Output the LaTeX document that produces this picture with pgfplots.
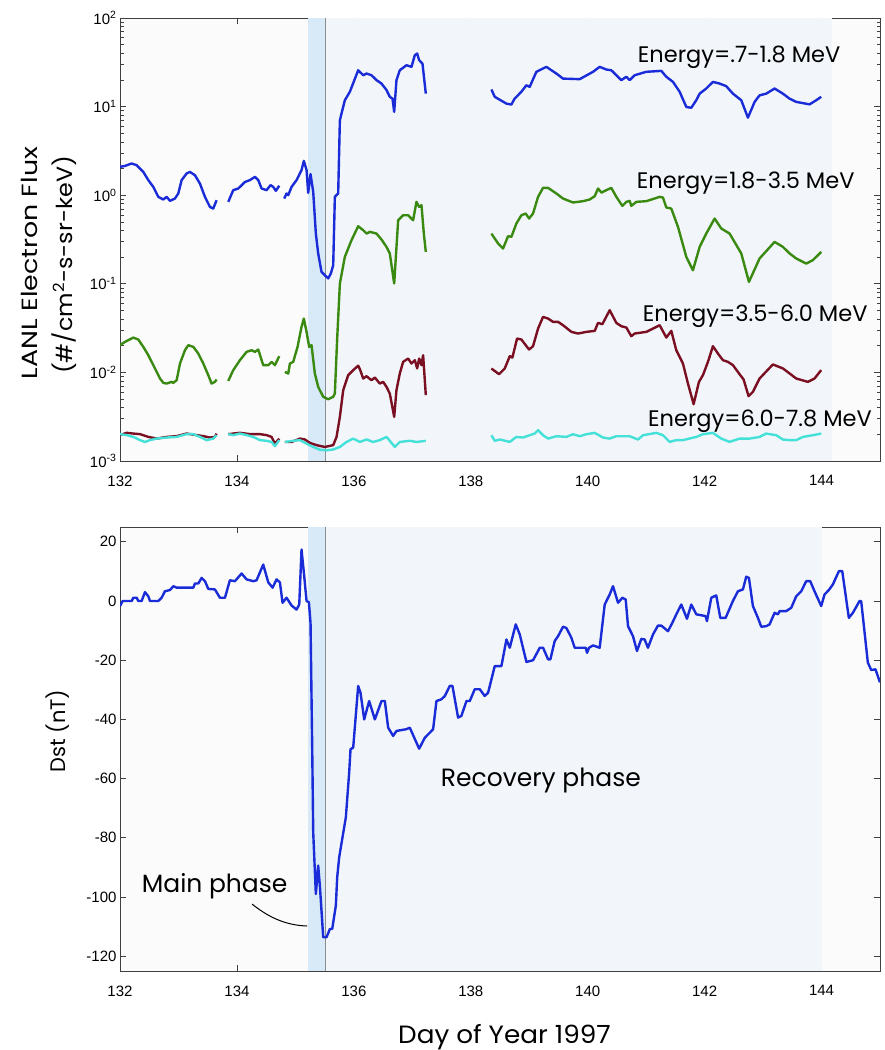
\documentclass[border=0pt]{standalone}
\usepackage{fontspec}
\setmainfont{Poppins}
\newfontfamily\tickfont{Liberation Sans}
\usepackage{graphicx}
\usepackage{pgfplots}
\pgfplotsset{compat=1.18}
\definecolor{cblue}{HTML}{1A2BD8}
\definecolor{cgreen}{HTML}{3A8A12}
\definecolor{cred}{HTML}{7A0F22}
\definecolor{ccyan}{HTML}{45E0D8}
\definecolor{mainsh}{HTML}{D8EAF8}
\definecolor{recsh}{HTML}{F2F6FA}
\definecolor{bgsh}{HTML}{FBFBFB}
\pgfplotsset{panel/.style={
  scale only axis, width=760pt, xmin=132, xmax=145, xtick={132,134,...,144},
  axis background/.style={fill=bgsh},
  axis line style={black!75, line width=0.8pt},
  tick style={black!75, line width=0.6pt},
  major tick length=6pt, minor tick length=3.5pt,
  tick label style={font=\tickfont\fontsize{15}{18}\selectfont},
  xticklabel style={yshift=-11pt},
  /pgf/number format/assume math mode=true,
  unbounded coords=jump,
  every axis plot/.append style={line width=2.4pt, line join=round},
}}
\begin{document}
\begin{tikzpicture}
\path[use as bounding box] (0,0) rectangle (885pt,1050pt);
% ---------------- top panel ----------------
\begin{axis}[panel, at={(120pt,589pt)}, anchor=south west, height=443pt,
  ymode=log, ymin=1e-3, ymax=1e2,
  ytick={1e-3,1e-2,1e-1,1,10,100},
  yticklabels={10\textsuperscript{-3},10\textsuperscript{-2},10\textsuperscript{-1},10\textsuperscript{0},10\textsuperscript{1},10\textsuperscript{2}}]
\fill[mainsh] (axis cs:135.21,1e-3) rectangle (axis cs:135.52,1e2);
\fill[recsh] (axis cs:135.52,1e-3) rectangle (axis cs:144.18,1e2);
\draw[black!45, line width=0.8pt] (axis cs:135.52,1e-3) -- (axis cs:135.52,1e2);
% 0.7-1.8 MeV
\addplot[cblue] coordinates {
(132.0,2.09)(132.085,2.14)(132.199,2.28)(132.285,2.18)(132.399,1.83)(132.484,1.48)(132.57,1.24)(132.655,0.958)(132.741,0.894)(132.798,0.958)(132.855,0.863)(132.94,0.917)(132.997,1.045)(133.054,1.48)(133.14,1.76)(133.197,1.83)(133.282,1.68)(133.368,1.35)(133.453,0.958)(133.538,0.738)(133.595,0.707)(133.652,0.878)
(133.75,nan)
(133.852,0.841)(133.937,1.14)(134.023,1.19)(134.137,1.41)(134.222,1.48)(134.308,1.61)(134.365,1.48)(134.422,1.19)(134.507,1.14)(134.575,1.30)(134.621,1.24)(134.667,1.12)(134.724,1.28)
(134.77,nan)
(134.809,0.917)(134.849,1.045)(134.878,1.0)(134.934,1.24)(135.02,1.48)(135.105,1.92)(135.145,2.44)(135.191,1.92)(135.219,1.063)(135.259,1.73)(135.305,1.09)(135.35,0.369)(135.39,0.22)(135.447,0.136)(135.504,0.125)(135.561,0.115)(135.607,0.131)(135.647,0.162)(135.675,0.958)(135.732,1.045)(135.761,7.02)(135.846,11.8)(135.932,14.7)(136.074,25.7)(136.16,22.6)(136.217,23.6)(136.302,22.6)(136.387,19.9)(136.473,18.2)(136.558,15.4)(136.615,12.9)(136.661,12.3)(136.69,8.72)(136.729,19.9)(136.786,25.7)(136.9,29.3)(136.986,28.1)(137.043,38.0)(137.083,39.7)(137.117,33.4)(137.174,30.6)(137.231,14.0)
(137.8,nan)
(138.353,15.6)(138.41,12.9)(138.61,10.8)(138.695,10.55)(138.75,12.3)(138.866,14.7)(138.95,17.4)(139.008,16.7)(139.122,24.7)(139.293,28.1)(139.464,23.6)(139.578,20.7)(139.863,20.4)(140.091,24.7)(140.205,28.1)(140.319,26.2)(140.404,25.7)(140.575,19.9)(140.661,21.7)(140.718,19.9)(140.803,22.6)(141.003,24.7)(141.259,25.3)(141.345,21.7)(141.459,19.0)(141.573,14.7)(141.687,9.9)(141.772,9.7)(141.857,11.8)(141.915,14.0)(142.028,16.0)(142.142,19.0)(142.256,18.2)(142.37,17.0)(142.484,14.0)(142.627,11.8)(142.741,7.5)(142.855,11.3)(142.94,13.4)(143.054,14.0)(143.197,16.0)(143.339,14.0)(143.453,12.3)(143.567,11.3)(143.795,10.6)(143.909,11.8)(143.994,12.9)
};
% 1.8-3.5 MeV
\addplot[cgreen] coordinates {
(132.0,0.0203)(132.085,0.0221)(132.228,0.0247)(132.313,0.0235)(132.399,0.0194)(132.484,0.01563)(132.57,0.01206)(132.627,0.01014)(132.684,0.00853)(132.741,0.00762)(132.798,0.00748)(132.883,0.00782)(132.912,0.00762)(132.969,0.00816)(133.026,0.01259)(133.111,0.0178)(133.168,0.0203)(133.254,0.0194)(133.339,0.01633)(133.425,0.01259)(133.51,0.0093)(133.567,0.00748)(133.624,0.00782)(133.652,0.00831)
(133.75,nan)
(133.852,0.00802)(133.937,0.01059)(134.051,0.01373)(134.165,0.01705)(134.251,0.0178)(134.308,0.01705)(134.365,0.01811)(134.45,0.01206)(134.536,0.01206)(134.593,0.01315)(134.65,0.01206)(134.724,0.01524)
(134.77,nan)
(134.821,0.01014)(134.878,0.0097)(134.906,0.01259)(134.963,0.01315)(135.037,0.0194)(135.105,0.03265)(135.145,0.04054)(135.191,0.02867)(135.236,0.0194)(135.276,0.0203)(135.333,0.0097)(135.39,0.00687)(135.476,0.0053)(135.561,0.00498)(135.647,0.0053)(135.675,0.00577)(135.715,0.02411)(135.761,0.1007)(135.846,0.2014)(135.96,0.3105)(136.074,0.4468)(136.16,0.4027)(136.217,0.369)(136.274,0.3857)(136.387,0.369)(136.473,0.316)(136.558,0.261)(136.615,0.22)(136.69,0.1007)(136.758,0.522)(136.843,0.594)(136.929,0.594)(137.014,0.522)(137.071,0.841)(137.117,0.738)(137.157,0.771)(137.197,0.369)(137.231,0.229)
(137.8,nan)
(138.353,0.369)(138.467,0.285)(138.552,0.250)(138.638,0.345)(138.695,0.339)(138.78,0.479)(138.866,0.594)(138.94,0.621)(138.997,0.545)(139.065,0.621)(139.151,0.958)(139.236,1.21)(139.322,1.21)(139.464,1.045)(139.578,0.917)(139.749,0.827)(139.92,0.856)(140.034,0.894)(140.12,0.975)(140.177,1.19)(140.234,1.07)(140.319,1.14)(140.404,1.21)(140.49,0.958)(140.593,0.758)(140.661,0.841)(140.718,0.863)(140.746,0.758)(140.832,0.841)(141.003,0.856)(141.231,0.958)(141.288,0.94)(141.345,0.726)(141.43,0.707)(141.544,0.44)(141.687,0.201)(141.8,0.142)(141.915,0.261)(142.028,0.369)(142.171,0.545)(142.285,0.421)(142.427,0.369)(142.627,0.22)(142.758,0.105)(142.94,0.193)(143.197,0.297)(143.339,0.261)(143.453,0.22)(143.567,0.193)(143.738,0.169)(143.852,0.185)(143.994,0.229)
};
% 3.5-6.0 MeV
\addplot[cred] coordinates {
(132.0,0.00196)(132.114,0.00208)(132.228,0.00204)(132.342,0.00201)(132.484,0.00187)(132.627,0.00179)(132.798,0.00187)(132.969,0.00191)(133.14,0.00204)(133.311,0.00196)(133.425,0.00191)(133.538,0.00184)(133.624,0.00187)(133.652,0.00204)
(133.75,nan)
(133.852,0.00201)(133.937,0.00204)(134.051,0.00208)(134.222,0.00201)(134.393,0.00201)(134.507,0.00196)(134.593,0.00187)(134.65,0.00157)(134.724,0.00179)
(134.77,nan)
(134.821,0.00164)(134.934,0.00164)(135.077,0.00179)(135.162,0.00175)(135.248,0.0016)(135.362,0.00151)(135.504,0.00144)(135.647,0.00151)(135.704,0.00187)(135.761,0.00315)(135.818,0.0063)(135.903,0.0093)(135.989,0.0106)(136.074,0.0119)(136.103,0.0109)(136.16,0.00853)(136.217,0.00906)(136.302,0.00816)(136.359,0.00875)(136.444,0.00748)(136.501,0.00782)(136.558,0.00687)(136.615,0.00577)(136.69,0.00315)(136.729,0.0063)(136.786,0.0097)(136.843,0.01315)(136.929,0.01434)(136.986,0.01259)(137.043,0.01373)(137.083,0.01109)(137.117,0.01434)(137.157,0.01206)(137.185,0.01563)(137.231,0.00553)
(137.8,nan)
(138.353,0.01106)(138.484,0.00954)(138.581,0.01106)(138.667,0.01524)(138.712,0.01472)(138.792,0.02411)(138.866,0.0235)(138.997,0.01811)(139.065,0.01975)(139.151,0.03126)(139.236,0.04233)(139.322,0.04054)(139.407,0.03718)(139.493,0.03718)(139.578,0.03409)(139.721,0.02867)(139.835,0.02746)(139.977,0.02867)(140.12,0.02942)(140.177,0.03622)(140.251,0.035)(140.376,0.05035)(140.49,0.03622)(140.575,0.0332)(140.661,0.03209)(140.746,0.02562)(140.803,0.02746)(141.003,0.02867)(141.231,0.03409)(141.345,0.02474)(141.43,0.02942)(141.515,0.0178)(141.629,0.01259)(141.715,0.00748)(141.812,0.00438)(141.903,0.00782)(141.971,0.0093)(142.057,0.01315)(142.142,0.01975)(142.228,0.01633)(142.313,0.01373)(142.399,0.01315)(142.484,0.01209)(142.598,0.00954)(142.667,0.00831)(142.752,0.00539)(142.826,0.00603)(142.94,0.00853)(143.168,0.0123)(143.339,0.01109)(143.567,0.00853)(143.766,0.00782)(143.88,0.00853)(143.994,0.01062)
};
% 6.0-7.8 MeV
\addplot[ccyan] coordinates {
(132.0,0.00201)(132.114,0.00196)(132.228,0.00187)(132.342,0.00172)(132.427,0.00164)(132.513,0.00172)(132.627,0.00179)(132.798,0.00184)(132.969,0.00187)(133.14,0.00201)(133.254,0.00201)(133.368,0.00187)(133.481,0.00172)(133.595,0.00179)(133.652,0.00196)
(133.75,nan)
(133.852,0.00201)(133.937,0.00196)(134.051,0.00204)(134.165,0.00196)(134.279,0.00187)(134.393,0.00172)(134.507,0.00169)(134.593,0.00164)(134.65,0.00147)(134.724,0.00172)
(134.77,nan)
(134.821,0.00164)(134.963,0.00169)(135.077,0.00172)(135.191,0.00157)(135.305,0.00144)(135.419,0.00134)(135.533,0.00132)(135.647,0.00135)(135.761,0.00144)(135.875,0.00164)(135.989,0.00179)(136.103,0.00164)(136.217,0.00175)(136.33,0.00164)(136.444,0.00172)(136.558,0.00187)(136.615,0.00169)(136.701,0.00144)(136.786,0.00164)(136.957,0.00169)(137.071,0.00164)(137.231,0.00169)
(137.8,nan)
(138.353,0.001955)(138.41,0.00169)(138.496,0.001747)(138.667,0.001644)(138.78,0.00187)(138.894,0.00184)(139.008,0.001955)(139.094,0.00204)(139.151,0.00223)(139.236,0.001955)(139.322,0.00179)(139.464,0.001905)(139.635,0.00187)(139.749,0.002006)(139.863,0.001905)(139.977,0.002006)(140.12,0.002077)(140.262,0.00184)(140.376,0.00179)(140.49,0.001905)(140.718,0.001905)(140.86,0.001747)(140.946,0.001955)(141.174,0.002077)(141.288,0.001955)(141.402,0.001644)(141.515,0.00172)(141.629,0.00172)(141.857,0.00187)(141.971,0.002006)(142.142,0.002077)(142.285,0.00179)(142.427,0.001644)(142.598,0.00179)(142.769,0.00179)(142.94,0.00187)(143.054,0.00204)(143.225,0.001955)(143.339,0.001747)(143.453,0.00172)(143.567,0.00172)(143.681,0.00187)(143.852,0.001955)(143.994,0.00204)
};
\node[anchor=base west, font=\fontsize{22.5}{26}\selectfont, inner sep=0pt] at (axis cs:140.855,31.1) {Energy=.7-1.8 MeV};
\node[anchor=base west, font=\fontsize{22.5}{26}\selectfont, inner sep=0pt] at (axis cs:140.838,1.19) {Energy=1.8-3.5 MeV};
\node[anchor=base west, font=\fontsize{22.5}{26}\selectfont, inner sep=0pt] at (axis cs:140.94,0.0372) {Energy=3.5-6.0 MeV};
\node[anchor=base west, font=\fontsize{22.5}{26}\selectfont, inner sep=0pt] at (axis cs:141.03,0.00243) {Energy=6.0-7.8 MeV};
\end{axis}
% ---------------- bottom panel ----------------
\begin{axis}[panel, at={(120pt,79pt)}, anchor=south west, height=444pt,
  ymin=-125, ymax=25, ytick={-120,-100,...,20}]
\fill[mainsh] (axis cs:135.21,-125) rectangle (axis cs:135.52,25);
\fill[recsh] (axis cs:135.52,-125) rectangle (axis cs:144.0,25);
\draw[black!45, line width=0.8pt] (axis cs:135.52,-125) -- (axis cs:135.52,25);
\addplot[cblue] coordinates {
(132.0,-1.7)(132.046,0)(132.2,0)(132.228,1.1)(132.285,1.1)(132.313,0)(132.37,0)(132.427,3)(132.484,1.6)(132.513,0)(132.655,0)(132.712,1.1)(132.769,3.3)(132.855,3.7)(132.912,5)(132.969,4.5)(133.254,4.5)(133.282,5.9)(133.339,5.9)(133.396,7.8)(133.453,6.7)(133.51,4.1)(133.624,3.9)(133.709,1.1)(133.795,1.1)(133.88,7.0)(133.966,6.7)(134.08,9.3)(134.165,7.3)(134.279,6.7)(134.336,7.0)(134.45,12.3)(134.536,6.3)(134.61,4.5)(134.678,7.3)(134.735,6.3)(134.781,-0.6)(134.849,1.1)(134.934,-1.5)(135.02,-2.9)(135.066,-1.2)(135.105,17.4)(135.151,8.4)(135.191,0)(135.231,-0.4)(135.259,-7.4)(135.288,-50.1)(135.305,-78.2)(135.35,-99)(135.39,-89.4)(135.419,-96.2)(135.476,-113.6)(135.533,-113.6)(135.59,-110.8)(135.63,-110.8)(135.692,-102.9)(135.715,-93.4)(135.749,-86.6)(135.863,-73.1)(135.92,-58)(135.943,-50.1)(135.989,-49.5)(136.074,-28.7)(136.114,-31)(136.177,-40)(136.262,-33.8)(136.359,-40)(136.473,-33.8)(136.53,-33.8)(136.587,-42.8)(136.672,-45.6)(136.729,-43.9)(136.9,-43.3)(136.957,-42.8)(137.117,-49.9)(137.214,-46.2)(137.299,-44.5)(137.356,-43.3)(137.413,-33.8)(137.499,-33.2)(137.556,-32.1)(137.641,-28.7)(137.687,-28.7)(137.783,-39.4)(137.84,-38.8)(137.926,-33.8)(137.983,-33.8)(138.068,-29.8)(138.154,-29.8)(138.239,-32.1)(138.296,-31)(138.41,-22)(138.524,-22)(138.61,-13)(138.667,-15.8)(138.769,-7.9)(138.838,-11.3)(138.952,-20.6)(139.066,-20)(139.18,-15.8)(139.237,-15.8)(139.322,-19.7)(139.362,-19.7)(139.436,-13.5)(139.493,-11.9)(139.578,-8.7)(139.635,-9.1)(139.721,-12.4)(139.778,-15.8)(139.966,-15.8)(139.989,-17.5)(140.023,-15.8)(140.091,-15)(140.205,-15.8)(140.291,-1.2)(140.376,2.2)(140.433,5)(140.519,-0.6)(140.593,1.1)(140.65,0.5)(140.69,-8.5)(140.775,-11.9)(140.843,-16.9)(140.917,-12.8)(140.974,-13)(141.031,-15.8)(141.117,-11.3)(141.202,-8.3)(141.259,-8.3)(141.373,-10.2)(141.447,-7.4)(141.516,-4.5)(141.601,-1.2)(141.698,-6)(141.772,-1.2)(141.858,-4.5)(142.017,-5.1)(142.04,-6.8)(142.114,1.1)(142.199,1.9)(142.268,-5.7)(142.359,-5.7)(142.484,0)(142.57,3.3)(142.655,3.9)(142.712,8.2)(142.758,7.8)(142.826,-1.7)(142.912,-5.7)(142.969,-8.7)(143.054,-8.5)(143.111,-7.9)(143.197,-4)(143.254,-4.5)(143.282,-3.4)(143.396,-3.4)(143.482,-2.3)(143.567,1.6)(143.653,3.3)(143.738,6.7)(143.806,6.7)(143.88,3.3)(143.994,-1.7)(144.051,2.2)(144.125,3.7)(144.194,5.6)(144.297,10.1)(144.354,10.1)(144.467,-5.7)(144.536,-4)(144.65,0)(144.678,0)(144.792,-20.8)(144.849,-23.3)(144.923,-23.1)(145.0,-27.5)
};
\node[anchor=base west, font=\fontsize{25}{30}\selectfont, inner sep=0pt] at (axis cs:137.487,-62.7) {Recovery phase};
\node[anchor=base west, font=\fontsize{25}{30}\selectfont, inner sep=0pt] at (axis cs:132.37,-98.4) {Main phase};
\draw[black, line width=1pt] (axis cs:134.26,-102.4) .. controls (axis cs:134.6,-107.8) and (axis cs:134.9,-109.6) .. (axis cs:135.2,-109.8);
\end{axis}
% ---------------- axis titles ----------------
\node[rotate=90, anchor=base, font=\fontsize{22}{26}\selectfont, inner sep=0pt] at (37pt,787pt) {\scalebox{1.22}[1]{LANL Electron Flux}};
\node[rotate=90, anchor=base, font=\fontsize{22}{26}\selectfont, inner sep=0pt] at (72pt,785pt) {\scalebox{1.08}[1]{(\#/cm\textsuperscript{2}-s-sr-keV)}};
\node[rotate=90, anchor=base, font=\fontsize{21}{25}\selectfont, inner sep=0pt] at (65pt,319pt) {Dst (nT)};
\node[anchor=base west, font=\fontsize{25}{29}\selectfont, inner sep=0pt] at (398pt,6.7pt) {\scalebox{1.05}[1]{Day of Year 1997}};
\end{tikzpicture}
\end{document}
